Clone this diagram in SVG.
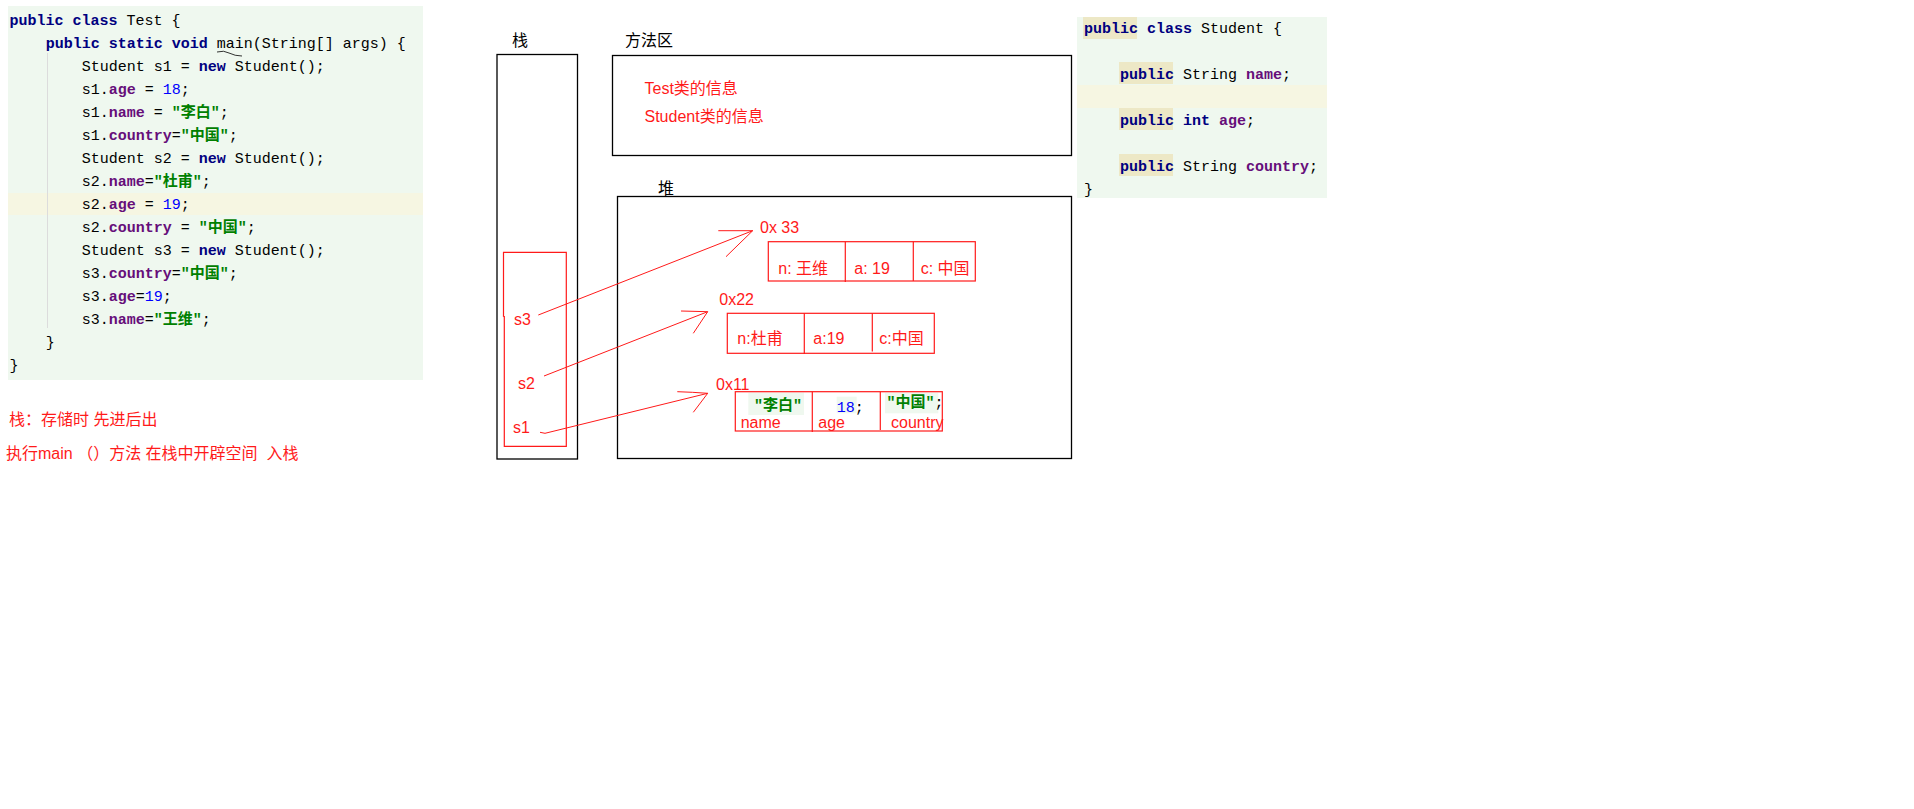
<svg xmlns="http://www.w3.org/2000/svg" width="1914" height="809" viewBox="0 0 1914 809">
<style>
.code{font-family:"Liberation Mono","Noto Sans CJK SC",monospace;font-size:15px;fill:#000}
.kw{fill:#000080;font-weight:bold}
.fd{fill:#660e7a;font-weight:bold}
.num{fill:#0000ff}
.str{fill:#008000;font-weight:bold}
.red{font-family:"Liberation Sans","Noto Sans CJK SC",sans-serif;font-size:16px;fill:#ff1a1a}
.lbl{font-family:"Liberation Sans","Noto Sans CJK SC",sans-serif;font-size:16px;fill:#000}
.box{fill:none;stroke:#000;stroke-width:1.3}
.rbox{fill:none;stroke:#ff1a1a;stroke-width:1.2}
.conn{fill:none;stroke:#ff1a1a;stroke-width:1}
</style>
<rect width="1914" height="809" fill="#fff"/>

<g id="code-test">
<rect x="8" y="6" width="415" height="374" fill="#eff8ef"/>
<rect x="8" y="193" width="415" height="22" fill="#f6f6e2"/>
<line x1="47.5" y1="53" x2="47.5" y2="328" stroke="#dcdcdc" stroke-width="1"/>
<path d="M217 52 Q224 50 229 53 Q235 56 242 56" fill="none" stroke="#000" stroke-width="0.8"/>
<text class="code" x="9.5" y="24.5"><tspan class="kw">public</tspan> <tspan class="kw">class</tspan> Test {</text>
<text class="code" x="45.7" y="47.5"><tspan class="kw">public</tspan> <tspan class="kw">static</tspan> <tspan class="kw">void</tspan> main(String[] args) {</text>
<text class="code" x="81.7" y="70.5">Student s1 = <tspan class="kw">new</tspan> Student();</text>
<text class="code" x="81.7" y="93.5">s1.<tspan class="fd">age</tspan> = <tspan class="num">18</tspan>;</text>
<text class="code" x="81.7" y="116.5">s1.<tspan class="fd">name</tspan> = <tspan class="str">"李白"</tspan>;</text>
<text class="code" x="81.7" y="139.5">s1.<tspan class="fd">country</tspan>=<tspan class="str">"中国"</tspan>;</text>
<text class="code" x="81.7" y="162.5">Student s2 = <tspan class="kw">new</tspan> Student();</text>
<text class="code" x="81.7" y="185.5">s2.<tspan class="fd">name</tspan>=<tspan class="str">"杜甫"</tspan>;</text>
<text class="code" x="81.7" y="208.5">s2.<tspan class="fd">age</tspan> = <tspan class="num">19</tspan>;</text>
<text class="code" x="81.7" y="231.5">s2.<tspan class="fd">country</tspan> = <tspan class="str">"中国"</tspan>;</text>
<text class="code" x="81.7" y="254.5">Student s3 = <tspan class="kw">new</tspan> Student();</text>
<text class="code" x="81.7" y="277.5">s3.<tspan class="fd">country</tspan>=<tspan class="str">"中国"</tspan>;</text>
<text class="code" x="81.7" y="300.5">s3.<tspan class="fd">age</tspan>=<tspan class="num">19</tspan>;</text>
<text class="code" x="81.7" y="323.5">s3.<tspan class="fd">name</tspan>=<tspan class="str">"王维"</tspan>;</text>
<text class="code" x="45.7" y="346.5">}</text>
<text class="code" x="9.5" y="369.5">}</text>
</g>

<g id="notes">
<text class="red" x="9" y="425" xml:space="preserve">栈：存储时 先进后出</text>
<text class="red" x="6" y="459" xml:space="preserve">执行main （）方法 在栈中开辟空间  入栈</text>
</g>

<g id="code-student">
<rect x="1077" y="17" width="250" height="181" fill="#eff8ef"/>
<rect x="1077" y="85" width="250" height="23" fill="#f6f6e2"/>
<rect x="1083" y="17" width="54" height="22" fill="#ede8c6"/>
<rect x="1119" y="62" width="54" height="22" fill="#ede8c6"/>
<rect x="1119" y="108" width="54" height="22" fill="#ede8c6"/>
<rect x="1119" y="154" width="54" height="22" fill="#ede8c6"/>
<text class="code" x="1084" y="32.5"><tspan class="kw">public</tspan> <tspan class="kw">class</tspan> Student {</text>
<text class="code" x="1120" y="78.5"><tspan class="kw">public</tspan> String <tspan class="fd">name</tspan>;</text>
<text class="code" x="1120" y="124.5"><tspan class="kw">public</tspan> <tspan class="kw">int</tspan> <tspan class="fd">age</tspan>;</text>
<text class="code" x="1120" y="170.5"><tspan class="kw">public</tspan> String <tspan class="fd">country</tspan>;</text>
<text class="code" x="1084" y="193.5">}</text>
</g>

<g id="stack">
<text class="lbl" x="512" y="46">栈</text>
<rect class="box" x="497" y="54.5" width="80.5" height="404.5"/>
<path class="rbox" d="M503.5 316.7 V252.3 H566.3 V446.3 H504.3 V316.7 H503.5"/>
<text class="red" x="514" y="325">s3</text>
<text class="red" x="518" y="389">s2</text>
<text class="red" x="513" y="433">s1</text>
</g>

<g id="method-area">
<text class="lbl" x="625" y="46">方法区</text>
<rect class="box" x="612.5" y="55.5" width="459" height="100"/>
<text class="red" x="644.5" y="94">Test类的信息</text>
<text class="red" x="644.5" y="122">Student类的信息</text>
</g>

<g id="heap">
<text class="lbl" x="658" y="194">堆</text>
<rect class="box" x="617.5" y="196.5" width="454" height="262"/>
</g>

<g id="obj-0x33">
<text class="red" x="760" y="233" font-size="15.5">0x 33</text>
<rect class="rbox" x="768.3" y="241.7" width="207" height="39.3"/>
<line class="rbox" x1="845.3" y1="241.7" x2="845.3" y2="282"/>
<line class="rbox" x1="913.3" y1="241.7" x2="913.3" y2="281"/>
<text class="red" x="778.3" y="274">n: 王维</text>
<text class="red" x="854.3" y="274">a: 19</text>
<text class="red" x="920.7" y="274">c: 中国</text>
</g>

<g id="obj-0x22">
<text class="red" x="719.3" y="304.5" font-size="15.5">0x22</text>
<rect class="rbox" x="727.3" y="313.3" width="207" height="40"/>
<line class="rbox" x1="804.3" y1="313.3" x2="804.3" y2="354"/>
<line class="rbox" x1="872.3" y1="313.3" x2="872.3" y2="351.5"/>
<text class="red" x="737.3" y="344">n:杜甫</text>
<text class="red" x="813.3" y="344">a:19</text>
<text class="red" x="879.3" y="344">c:中国</text>
</g>

<g id="obj-0x11">
<text class="red" x="716" y="389.5" font-size="15.5">0x11</text>
<rect x="748.3" y="392.7" width="55.7" height="22.3" fill="#eff8ef"/>
<rect x="836.7" y="396.7" width="20" height="16.6" fill="#eff8ef"/>
<rect x="885" y="392.7" width="53.3" height="20.6" fill="#eff8ef"/>
<rect class="rbox" x="735.3" y="391.7" width="207" height="39.3"/>
<line class="rbox" x1="812.3" y1="391.7" x2="812.3" y2="432"/>
<line class="rbox" x1="880.3" y1="391.7" x2="880.3" y2="430"/>
<text class="code" x="754" y="409.5"><tspan class="str">"李白"</tspan></text>
<text class="code" x="836.7" y="411.5"><tspan class="num">18</tspan>;</text>
<text class="code" x="886.5" y="407"><tspan class="str">"中国"</tspan>;</text>
<text class="red" x="740.7" y="427.5" font-size="17">name</text>
<text class="red" x="818.3" y="427.5" font-size="17">age</text>
<text class="red" x="891" y="427.5" font-size="17">country</text>
</g>

<g id="connectors">
<path class="conn" d="M538.3 315 L752.7 230.7 M718.3 230.7 L752.7 230.7 L726 256.7"/>
<path class="conn" d="M544 376 L707.7 311.7 M681 311 L707.7 311.7 L693.3 333.3"/>
<path class="conn" d="M540 432.3 L545 433.3 L707.7 393.3 M677.3 391.7 L692.3 392.3 L707.7 393.3 L693.3 412.3"/>
</g>
</svg>
